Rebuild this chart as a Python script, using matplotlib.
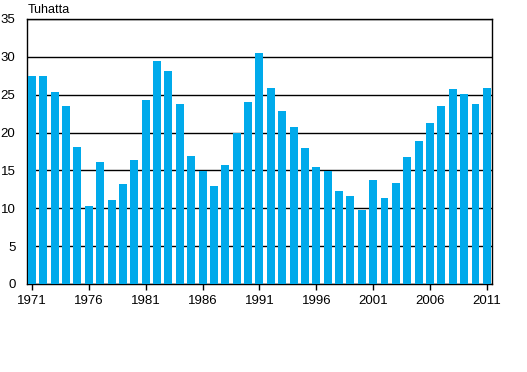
import matplotlib
matplotlib.use("Agg")
import matplotlib.pyplot as plt

years = list(range(1971, 2012))
values = [27.5, 27.5, 25.4, 23.5, 18.1, 10.3, 16.1, 11.1, 13.2, 16.4,
          24.3, 29.5, 28.1, 23.8, 16.9, 14.9, 12.9, 15.7, 19.9, 24.0,
          30.5, 25.9, 22.9, 20.7, 18.0, 15.5, 14.9, 12.3, 11.6, 9.8,
          13.7, 11.4, 13.3, 16.8, 18.9, 21.3, 23.5, 25.8, 25.1, 23.8, 25.9]
xticks = [1971, 1976, 1981, 1986, 1991, 1996, 2001, 2006, 2011]
yticks = [0, 5, 10, 15, 20, 25, 30, 35]

plt.rcParams['font.family'] = ['Liberation Sans', 'DejaVu Sans']
fig = plt.figure(figsize=(5.27, 3.72), dpi=100)
ax = fig.add_axes([0.0503, 0.2366, 0.934 - 0.0503, 0.949 - 0.2366])
ax.bar(years, values, width=0.7, color='#00AAEB', zorder=3)
ax.set_xlim(1970.52, 2011.47)
ax.set_ylim(0, 35)
ax.set_yticks(yticks)
ax.set_xticks(xticks)
ax.set_xticklabels([str(x) for x in xticks], fontsize=9.5)
ax.set_yticklabels([str(y) for y in yticks], fontsize=9.5)
ax.yaxis.grid(True, color='black', linewidth=1.0, zorder=1)
ax.tick_params(axis='y', length=0, pad=8)
ax.tick_params(axis='x', length=4, width=1, pad=4)
for s in ax.spines.values():
    s.set_linewidth(1.0)
    s.set_color('black')
fig.text(28 / 527, 1 - 13 / 372, 'Tuhatta', fontsize=9, ha='left', va='baseline')
fig.savefig('out.png', dpi=100)
